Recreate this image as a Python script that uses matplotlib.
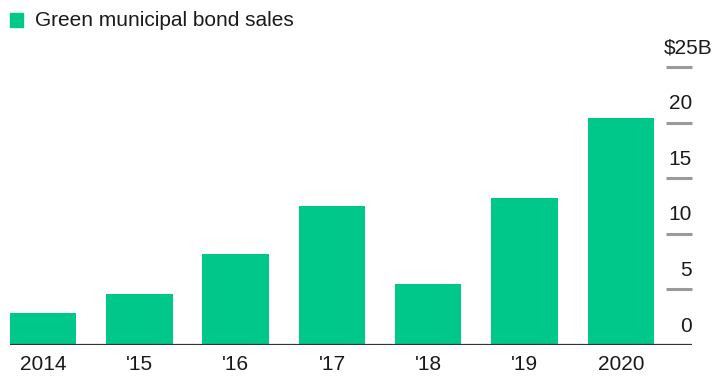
import matplotlib.pyplot as plt
from matplotlib.patches import Rectangle

plt.rcParams['font.family'] = ['Liberation Sans', 'DejaVu Sans']

# green muni bond sales, billions of dollars
years = ["2014", "'15", "'16", "'17", "'18", "'19", "2020"]
sales = [2.9, 4.6, 8.2, 12.5, 5.5, 13.2, 20.4]
y_ticks = [0, 5, 10, 15, 20, 25]
y_labels = ["0", "5", "10", "15", "20", "$25B"]

green = "#00c88b"
grey = "#9a9a9a"
ink = "#1a1a1a"

fig = plt.figure(figsize=(7.16, 3.76), dpi=100)
ax = fig.add_axes([10 / 716, 31 / 376, 682 / 716, 278 / 376])

x = range(len(years))
ax.bar(x, sales, width=0.69, color=green, zorder=2)

ax.set_xlim(-0.344, 6.74)
ax.set_ylim(0, 25)
for s in ax.spines.values():
    s.set_visible(False)
ax.set_yticks([])
ax.set_xticks(list(x))
ax.set_xticklabels(years, fontsize=15, color=ink)
ax.tick_params(axis='x', length=0, pad=7)

# baseline
ax.axhline(0, color="#333333", lw=1.6, zorder=3)

# short gridline stubs at the right with labels above them
for v, lab in zip(y_ticks, y_labels):
    if v > 0:
        ax.hlines(v, 6.47, 6.74, color=grey, lw=2.2, clip_on=False)
    xr = 6.95 if lab.startswith("$") else 6.74
    ax.text(xr, v + 1.2, lab, ha='right', va='baseline', fontsize=15,
            color=ink, clip_on=False)

# legend swatch + label
fig.patches.append(Rectangle((10 / 716, 1 - 27 / 376), 13 / 716, 14 / 376,
                             transform=fig.transFigure, color=green))
fig.text(35 / 716, 1 - 20 / 376, "Green municipal bond sales", fontsize=15,
         color=ink, va='center', ha='left')

fig.savefig("out.png", dpi=100)
